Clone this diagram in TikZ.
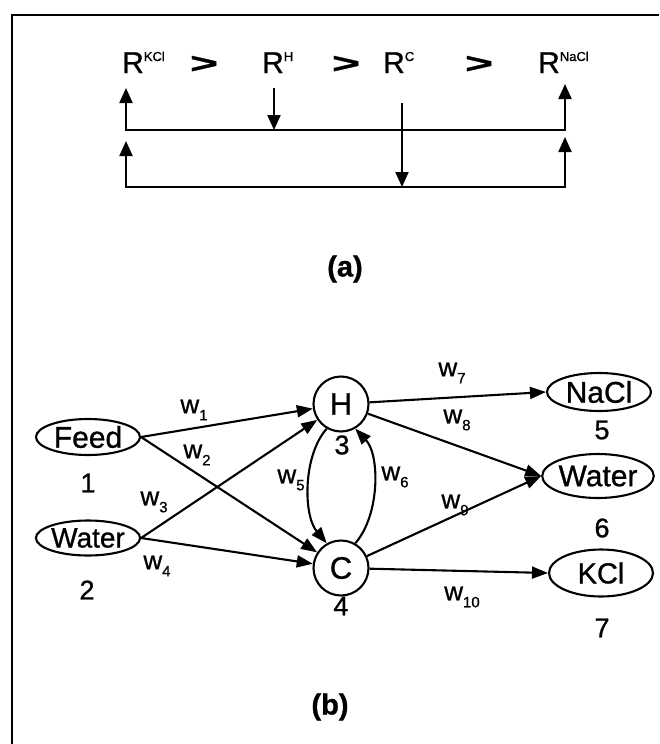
\documentclass[tikz,border=0pt]{standalone}
\usepackage{fontspec}
\setmainfont{Liberation Sans}[FakeBold=0.9]
\usetikzlibrary{arrows.meta,shapes.geometric}

% superscript / subscript at fixed sizes for the large type used here
\newcommand\hisup[1]{\raisebox{12pt}{\fontsize{13}{14}\selectfont #1}}
\newcommand\losub[1]{\raisebox{-7pt}{\fontsize{15}{16}\selectfont #1}}
\newcommand\gtsign{\scalebox{1.6}[0.95]{\bfseries >}}

\begin{document}
\begin{tikzpicture}[x=1pt,y=-1pt,
  every node/.style={font=\fontsize{30}{32}\selectfont},
  lw/.style={line width=2.1pt},
  uptip/.style={lw,-{Triangle[length=15pt,width=13pt]}},
  bothtip/.style={lw,{Triangle[length=15pt,width=13pt]}-{Triangle[length=15pt,width=13pt]}},
  link/.style={lw,-{Triangle[length=16pt,width=12pt]}},
  oval/.style={draw,ellipse,lw,inner sep=0pt,minimum width=104pt,font=\fontsize{30}{32}\selectfont},
  unit/.style={draw,circle,lw,inner sep=0pt,minimum size=55pt,font=\fontsize{31}{33}\selectfont},
  wlab/.style={font=\fontsize{26}{28}\selectfont,inner sep=0pt},
  num/.style={font=\fontsize{27}{29}\selectfont,inner sep=0pt},
  partlabel/.style={font=\fontsize{29}{31}\selectfont\bfseries,inner sep=0pt},
]
\useasboundingbox (0,0) rectangle (659,744);

% frame
\draw[line width=2.8pt] (12,744) -- (12,15) -- (659,15);

% ---------- (a) ordering ----------
\node[anchor=base west,inner sep=0pt] (rk) at (122,73) {R\hisup{KCl}};
\node[anchor=base,inner sep=0pt] (g1) at (204,73) {\gtsign};
\node[anchor=base west,inner sep=0pt] (rh) at (262,73) {R\hisup{H}};
\node[anchor=base,inner sep=0pt] (g2) at (346,73) {\gtsign};
\node[anchor=base west,inner sep=0pt] (rc) at (383,73) {R\hisup{C}};
\node[anchor=base,inner sep=0pt] (g3) at (479,73) {\gtsign};
\node[anchor=base west,inner sep=0pt] (rn) at (538,73) {R\hisup{NaCl}};

\coordinate (k1) at (126,88);
\coordinate (k2) at (126,141);
\coordinate (n1) at (565,84);
\coordinate (n2) at (565,137);
\coordinate (h0) at (274,88);
\coordinate (h1) at (274,130);
\coordinate (c0) at (402,103);
\coordinate (c1) at (402,187);

\draw[bothtip] (k1) -- (k1 |- h1) -- (n1 |- h1) -- (n1);
\draw[bothtip] (k2) -- (k2 |- c1) -- (n2 |- c1) -- (n2);
\draw[uptip] (h0) -- (h1);
\draw[uptip] (c0) -- (c1);

\node[partlabel] (capa) at (345,269) {(a)};

% ---------- (b) network ----------
\node[oval,minimum height=36pt] (feed) at (88,437) {Feed};
\node[oval,minimum height=35pt,font=\fontsize{28}{30}\selectfont] (wat) at (88,538) {Water};
\node[unit] (H) at (341,404) {H};
\node[unit] (C) at (341,568) {C};
\node[oval,minimum height=38pt] (nacl) at (599,392) {NaCl};
\node[oval,minimum height=44pt] (wout) at (598,476) {Water};
\node[oval,minimum height=47pt,font=\fontsize{29}{31}\selectfont] (kcl) at (601,573) {KCl};

\node[num] (n1l) at (88,483) {1};
\node[num] (n2l) at (87,590) {2};
\node[num] (n3l) at (342,445) {3};
\node[num] (n4l) at (341,606) {4};
\node[num] (n5l) at (602,430) {5};
\node[num] (n6l) at (602,528) {6};
\node[num] (n7l) at (602,628) {7};

\draw[link] (feed.east) -- (H);
\draw[link] (feed.east) -- (C);
\draw[link] (wat.east) -- (H);
\draw[link] (wat.east) -- (C);
\draw[link] (H.240) .. controls (303,455) and (303,515) .. (C.120);
\draw[link] (C.60) .. controls (380,515) and (380,455) .. (H.300);
\draw[link] (H) -- (nacl.west);
\draw[link] (H) -- (wout.west);
\draw[link] (C) -- (wout.west);
\draw[link] (C) -- (kcl.west);

\node[wlab] (w1) at (194,410) {w\losub{1}};
\node[wlab] (w2) at (197,455) {w\losub{2}};
\node[wlab] (w3) at (154,502) {w\losub{3}};
\node[wlab] (w4) at (157,566) {w\losub{4}};
\node[wlab] (w5) at (291,480) {w\losub{5}};
\node[wlab] (w6) at (395,477) {w\losub{6}};
\node[wlab] (w7) at (452,373) {w\losub{7}};
\node[wlab] (w8) at (457,420) {w\losub{8}};
\node[wlab] (w9) at (455,505) {w\losub{9}};
\node[wlab] (w10) at (462,597) {w\losub{10}};

\node[partlabel] (capb) at (330,707) {(b)};
\end{tikzpicture}
\end{document}
